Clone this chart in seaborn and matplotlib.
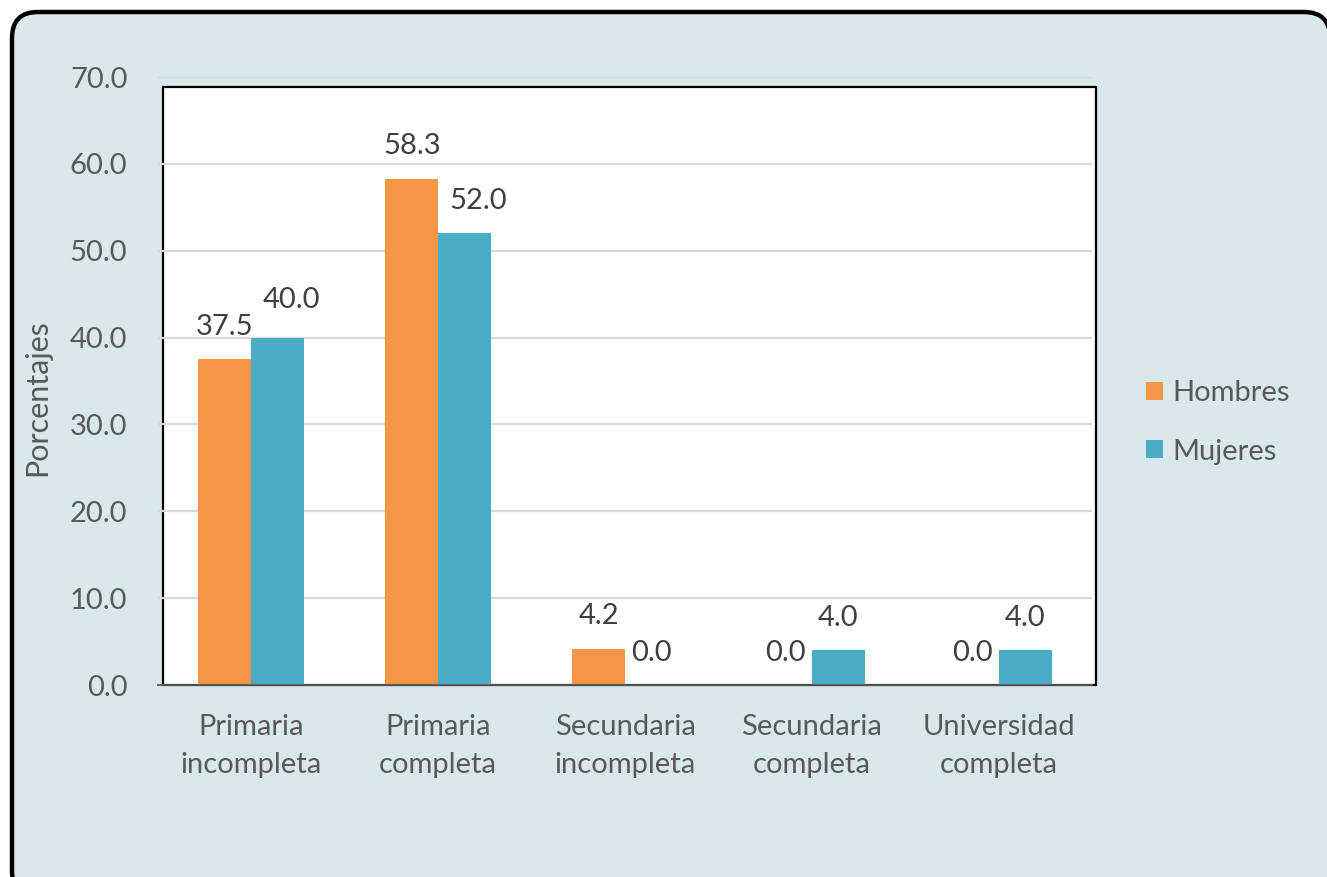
import matplotlib
matplotlib.use("Agg")
import matplotlib.pyplot as plt
import seaborn as sns
import pandas as pd
from matplotlib.patches import Patch, Rectangle, FancyBboxPatch
from matplotlib.transforms import IdentityTransform

categories = ["Primaria\nincompleta", "Primaria\ncompleta", "Secundaria\nincompleta",
              "Secundaria\ncompleta", "Universidad\ncompleta"]
hombres = [37.5, 58.3, 4.2, 0.0, 0.0]
mujeres = [40.0, 52.0, 0.0, 4.0, 4.0]
series_names = ["Hombres", "Mujeres"]
yticks = [0, 10, 20, 30, 40, 50, 60, 70]

colors = ["#F79646", "#4BACC6"]
bg = "#D9E8EB"
txt = "#595959"
FS = 21

df = pd.DataFrame({
    "cat": categories * 2,
    "serie": [series_names[0]] * len(categories) + [series_names[1]] * len(categories),
    "val": hombres + mujeres,
})

sns.set_theme(style="white")
plt.rcParams["font.family"] = ["Lato", "DejaVu Sans"]

W, H = 1327, 877
fig = plt.figure(figsize=(W / 100, H / 100), dpi=100, facecolor="white")

# outer rounded frame (pixels)
frame = FancyBboxPatch((12, -20), 1318, 877 - 12 + 20,
                       boxstyle="round,pad=0,rounding_size=26",
                       transform=IdentityTransform(), facecolor=bg,
                       edgecolor="black", linewidth=3.2, zorder=-10)
fig.patches.append(frame)

ax_l, ax_r, ax_b, ax_t = 158, 1092, 685, 77
ax = fig.add_axes([ax_l / W, 1 - ax_b / H, (ax_r - ax_l) / W, (ax_b - ax_t) / H])
ax.set_facecolor("none")
ax.set_zorder(1)

sns.barplot(data=df, x="cat", y="val", hue="serie", hue_order=series_names,
            palette=colors, width=0.567, dodge=True, gap=0, saturation=1,
            linewidth=0, ax=ax, legend=False, zorder=3)

ax.set_ylim(0, 70)
ax.set_xlim(-0.5, 4.5)
ax.set_yticks(yticks)
ax.set_yticklabels([f"{v:.1f}" for v in yticks])

# white plot area with black frame
box = Rectangle(((163 - ax_l) / (ax_r - ax_l), 0), (1096 - 163) / (ax_r - ax_l), 68.8 / 70,
                transform=ax.transAxes, facecolor="white", edgecolor="black",
                linewidth=1.6, zorder=0.5, clip_on=False)
ax.add_patch(box)

for yv in yticks:
    if yv > 0:
        ax.axhline(yv, color="#D9D9D9", linewidth=1.6, zorder=1)

for s in ["top", "right", "left"]:
    ax.spines[s].set_visible(False)
ax.spines["bottom"].set_color("#595959")
ax.spines["bottom"].set_linewidth(1.3)
ax.spines["bottom"].set_zorder(4)

ax.tick_params(axis="y", length=0, pad=22, labelsize=FS, labelcolor=txt)
ax.tick_params(axis="x", length=0, pad=21, labelsize=FS, labelcolor=txt)
for lab in ax.get_xticklabels():
    lab.set_linespacing(1.55)

ax.set_xlabel("")
ax.set_ylabel("Porcentajes", fontsize=22, color=txt)
ax.yaxis.set_label_coords(-0.114, 0.472)

# data labels; teal labels of the two first groups nudged right as in the original
for si, cont in enumerate(ax.containers):
    for ci, rect in enumerate(cont):
        val = rect.get_height()
        dx, dy = 0, 14
        if si == 1 and ci < 2:
            dx = 10
            if ci == 0:
                dy = 18
        ax.annotate(f"{val:.1f}", (rect.get_x() + rect.get_width() / 2, val),
                    xytext=(dx, dy), textcoords="offset points",
                    ha="center", va="bottom", fontsize=FS, color="#404040", zorder=5)

handles = [Patch(facecolor=c, edgecolor="none") for c in colors]
fig.legend(handles, series_names, loc="upper left",
           bbox_to_anchor=(1146 / W, 1 - 380 / H), frameon=False,
           fontsize=FS, labelcolor=txt, handlelength=0.57, handleheight=0.57,
           handletextpad=0.35, labelspacing=1.12, borderpad=0, borderaxespad=0)

fig.savefig("out.png", dpi=100, facecolor="white")
